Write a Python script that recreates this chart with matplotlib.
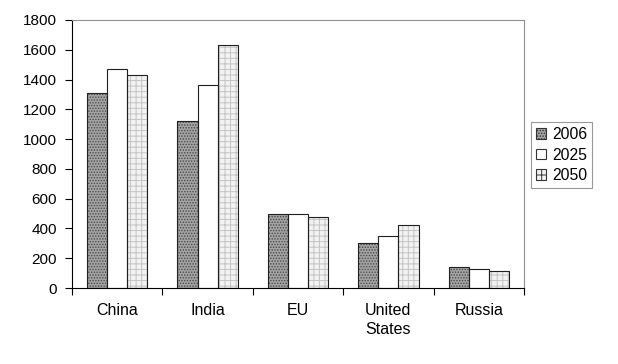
import matplotlib
matplotlib.use("Agg")
import matplotlib.pyplot as plt
import numpy as np

categories = ["China", "India", "EU", "United\nStates", "Russia"]
series_names = ["2006", "2025", "2050"]
v2006 = [1310, 1121, 495, 302, 143]
v2025 = [1471, 1363, 494, 351, 130]
v2050 = [1430, 1632, 475, 423, 114]
yticks = [0, 200, 400, 600, 800, 1000, 1200, 1400, 1600, 1800]

plt.rcParams['font.family'] = ['Liberation Sans', 'DejaVu Sans']
plt.rcParams['hatch.linewidth'] = 0.7

fig = plt.figure(figsize=(6.18, 3.64), dpi=100)
ax = fig.add_axes([72/618, 1-288/364, (524-72)/618, (288-20)/364])

x = np.arange(len(categories))
w = 0.222
styles = [
    dict(face="#a4a4a4", hatch="......", hcol="#4a4a4a"),
    dict(face="white", hatch=None, hcol="white"),
    dict(face="#f2f2f2", hatch="+++", hcol="#c4c4c4"),
]
handles = []
for i, (vals, st) in enumerate(zip([v2006, v2025, v2050], styles)):
    pos = x + (i - 1) * w
    ax.bar(pos, vals, w, color=st["face"], hatch=st["hatch"],
           edgecolor=st["hcol"], linewidth=0, zorder=2)
    ax.bar(pos, vals, w, fill=False, edgecolor="#202020",
           linewidth=0.8, zorder=3)
    h = ax.bar([0], [0], 0, color=st["face"], hatch=st["hatch"],
               edgecolor="#333333", linewidth=0.8, label=series_names[i])
    handles.append(h)

ax.set_xlim(-0.5, len(categories) - 0.5)
ax.set_ylim(0, 1800)
ax.set_yticks(yticks)
ax.set_yticklabels([str(t) for t in yticks], fontsize=11)
ax.set_xticks(x)
ax.set_xticklabels(categories, fontsize=11.5, linespacing=1.3)
ax.set_xticks(np.arange(len(categories) + 1) - 0.5, minor=True)
ax.tick_params(axis='x', which='major', length=0, pad=11)
ax.tick_params(axis='x', which='minor', length=5, direction='out', width=0.8)
ax.tick_params(axis='y', length=5, direction='out', width=0.8, pad=6)
for s in ['top', 'right']:
    ax.spines[s].set_color('#909090')
    ax.spines[s].set_linewidth(0.8)
for s in ['left', 'bottom']:
    ax.spines[s].set_color('black')
    ax.spines[s].set_linewidth(0.8)

leg = fig.legend(handles=handles, loc='center left',
                 bbox_to_anchor=(531/618, 1-155/364), fontsize=11.3,
                 frameon=True, fancybox=False, edgecolor='#808080',
                 handlelength=0.65, handleheight=0.65, handletextpad=0.4,
                 labelspacing=0.35, borderpad=0.3, borderaxespad=0)
leg.get_frame().set_linewidth(0.8)

fig.savefig("out.png", dpi=100)
